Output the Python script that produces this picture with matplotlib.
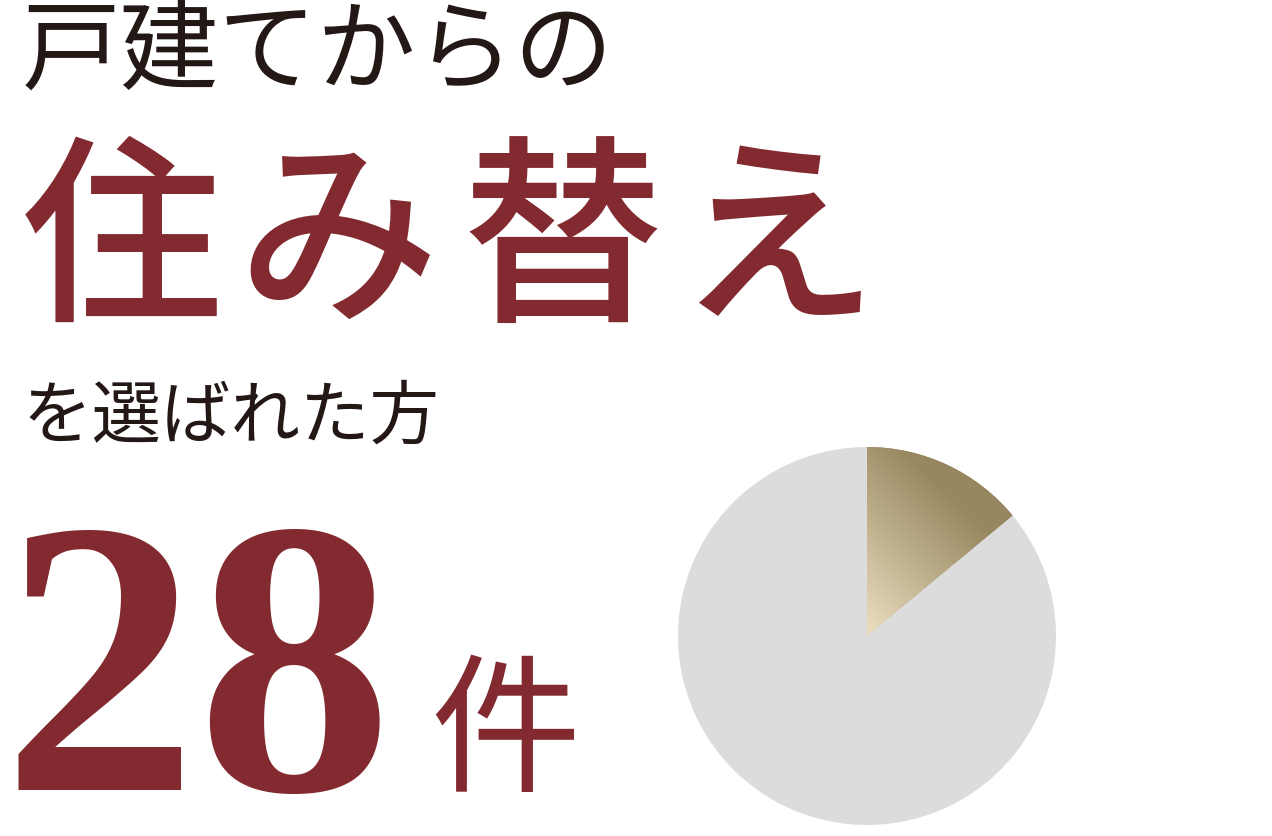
import numpy as np
import matplotlib
matplotlib.use("Agg")
import matplotlib.pyplot as plt
from matplotlib.colors import LinearSegmentedColormap

# ---- data ----
categories = ["戸建てからの住み替え", "その他"]
values = [28, 172]
count_label = "28"
unit_label = "件"
title_top = "戸建てからの"
title_main = "住み替え"
title_sub = "を選ばれた方"

RED = "#822a2f"
DARK = "#231815"
GRAY = "#dcdcdc"
GOLD_LIGHT = "#ecdfc0"
GOLD_DARK = "#978760"

W, H = 1272, 837
fig = plt.figure(figsize=(W / 100, H / 100), dpi=100)
fig.patch.set_facecolor("white")

def px(x, y):
    return x / W, 1 - y / H

JP = ["Noto Sans CJK JP", "DejaVu Sans"]

# top line
fig.text(*px(22, 54), title_top, fontsize=71, color=DARK, family=JP,
         ha="left", va="center")
# main line, per-char placement for wide letter spacing
centers = [122, 338, 562, 777]
for ch, cx in zip(title_main, centers):
    fig.text(*px(cx, 248), ch, fontsize=145, color=RED, family=JP,
             ha="center", va="center", fontweight="medium")
# sub line
fig.text(*px(22, 418), title_sub, fontsize=50, color=DARK, family=JP,
         ha="left", va="center")
# count
fig.text(*px(2, 790), count_label, fontsize=282, color=RED,
         family=["Liberation Serif"], fontweight="bold",
         ha="left", va="baseline")
fig.text(*px(505, 738), unit_label, fontsize=108, color=RED, family=JP,
         ha="center", va="center")

# pie
cx, cy, r = 867, 637, 189
ax = fig.add_axes([(cx - r) / W, (H - cy - r) / H, 2 * r / W, 2 * r / H])
wedges, _ = ax.pie(values, startangle=90, counterclock=False,
                   colors=[GOLD_DARK, GRAY], radius=1,
                   wedgeprops=dict(linewidth=0))
ax.set_xlim(-1, 1)
ax.set_ylim(-1, 1)
ax.axis("off")

cmap = LinearSegmentedColormap.from_list("gold", [GOLD_LIGHT, GOLD_DARK])
n = 256
gx, gy = np.meshgrid(np.linspace(0, 1, n), np.linspace(0, 1, n))
grad = np.clip((gx + gy) / 1.2, 0, 1)
im = ax.imshow(grad, cmap=cmap, extent=[0, 1, 0, 1], origin="lower",
               zorder=3, interpolation="bilinear")
im.set_clip_path(wedges[0])
ax.set_xlim(-1, 1)
ax.set_ylim(-1, 1)

fig.savefig("out.png", dpi=100, facecolor="white")
